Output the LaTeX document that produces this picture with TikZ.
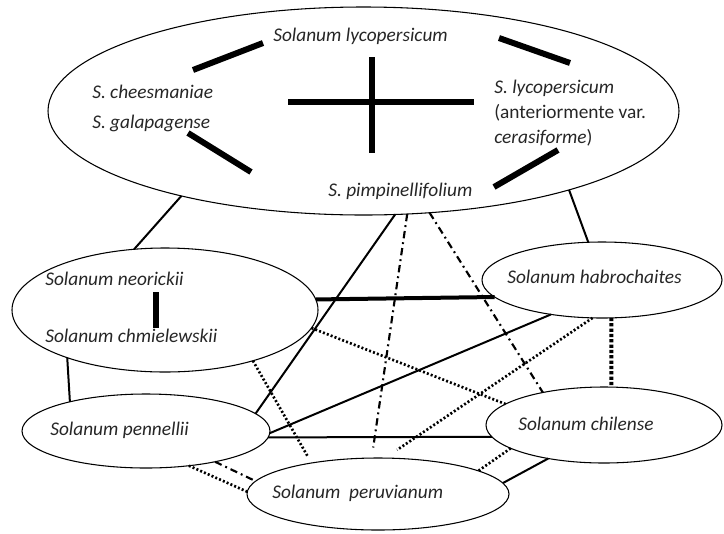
\documentclass[tikz,border=0pt]{standalone}
\usepackage{fontspec}
\setmainfont{Carlito}
\usetikzlibrary{positioning,shapes}
\newlength{\pxu}
\setlength{\pxu}{0.75pt}
\tikzstyle{species} = [draw, ellipse, line width=0.8pt, inner sep=0pt, outer sep=0pt]
\tikzstyle{spname} = [inner sep=0pt, anchor=base west, align=left, text=black!85, font=\fontsize{14.5pt}{18.4pt}\selectfont\itshape]
\tikzstyle{line} = [draw, line width=1.5pt]
\tikzstyle{thickline} = [draw, line width=3pt]
\tikzstyle{bond} = [draw, line width=4.5pt]
\tikzstyle{dotline} = [draw, line width=2pt, dash pattern=on 1.5pt off 1.6pt]
\tikzstyle{thickdot} = [draw, line width=3pt, dash pattern=on 2.4pt off 1.6pt]
\tikzstyle{dashdot} = [draw, line width=1.6pt, dash pattern=on 5.5pt off 3pt on 1.4pt off 3pt]

\begin{document}
\begin{tikzpicture}[x=0.75pt, y=-0.75pt]
    \useasboundingbox (0,0) rectangle (724,533);

    % Place ellipses
    \node [species, minimum width=631\pxu, minimum height=208\pxu] (lyco-complex) at (363.5,111) {};
    \node [species, minimum width=306\pxu, minimum height=124\pxu] (neo-chm) at (165,310) {};
    \node [species, minimum width=248\pxu, minimum height=74\pxu] (pennellii) at (146,431) {};
    \node [species, minimum width=262\pxu, minimum height=72\pxu] (peruvianum) at (378,494) {};
    \node [species, minimum width=240\pxu, minimum height=76\pxu] (habrochaites) at (602,280) {};
    \node [species, minimum width=236\pxu, minimum height=76\pxu] (chilense) at (604,425) {};

    % Place names
    \node [spname] (sl-name) at (273,41) {Solanum lycopersicum};
    \node [spname] (chee-name) at (92,98) {S. cheesmaniae};
    \node [spname] (gal-name) at (92,128) {S. galapagense};
    \node [spname] (cera-name) at (494,143) {S. lycopersicum\\{\upshape(anteriormente var.}\\cerasiforme{\upshape)}};
    \node [spname] (pimp-name) at (328,196) {S. pimpinellifolium};
    \node [spname] (neo-name) at (45,285) {Solanum neorickii};
    \node [spname] (chm-name) at (45,342) {Solanum chmielewskii};
    \node [spname] (pen-name) at (50,435) {Solanum pennellii};
    \node [spname] (hab-name) at (507,283) {Solanum habrochaites};
    \node [spname] (chil-name) at (518,430) {Solanum chilense};
    \node [spname] (peru-name) at (272,498) {Solanum\ \ peruvianum};

    % Bars inside the ellipses
    \coordinate (bar-ul-a) at (193,70);  \coordinate (bar-ul-b) at (263,43);
    \coordinate (bar-ll-a) at (188,133); \coordinate (bar-ll-b) at (251,172);
    \coordinate (bar-ur-a) at (499,38);  \coordinate (bar-ur-b) at (570,63);
    \coordinate (bar-lr-a) at (494,187); \coordinate (bar-lr-b) at (558,150);
    \coordinate (cross-w) at (288,102);  \coordinate (cross-e) at (474,102);
    \coordinate (cross-n) at (372,57);   \coordinate (cross-s) at (372,153);
    \coordinate (bar-neo-a) at (156,292); \coordinate (bar-neo-b) at (156,328);
    \path [bond] (bar-ul-a) -- (bar-ul-b);
    \path [bond] (bar-ll-a) -- (bar-ll-b);
    \path [bond] (bar-ur-a) -- (bar-ur-b);
    \path [bond] (bar-lr-a) -- (bar-lr-b);
    \path [bond] (cross-w) -- (cross-e);
    \path [bond] (cross-n) -- (cross-s);
    \path [bond] (bar-neo-a) -- (bar-neo-b);

    % Draw edges
    \path [line] (lyco-complex.205.8) -- (neo-chm.117.3);
    \path [line] (lyco-complex.339.2) -- (habrochaites.110.2);
    \path [line] (neo-chm.206.3) -- (pennellii.159.7);
    \path [line] (pennellii.9.6) -- (lyco-complex.287.1);
    \path [thickline] (neo-chm.4.5) -- (habrochaites.189.3);
    \path [dotline] (neo-chm.353.8) -- (chilense.168.1);
    \path [dotline, shorten >=5pt] (neo-chm.330.8) -- (peruvianum.155.5);
    \path [line] (pennellii.359.5) -- (habrochaites.214);
    \path [line] (pennellii.357.2) -- (chilense.186.1);
    \path [dashdot] (pennellii.336.6) -- (peruvianum.174.3);
    \path [dotline] (pennellii.321.8) -- (peruvianum.179.1);
    \path [dashdot, shorten >=8pt] (lyco-complex.293.4) -- (peruvianum.100.2);
    \path [dashdot] (lyco-complex.303.6) -- (chilense.152.4);
    \path [thickdot] (habrochaites.284.8) -- (chilense.79.5);
    \path [dotline, shorten >=11pt] (habrochaites.256.7) -- (peruvianum.79.2);
    \path [line] (chilense.211.7) -- (peruvianum.5.0);
    \path [dotline] (chilense.194.7) -- (peruvianum.13.2);
\end{tikzpicture}
\end{document}
